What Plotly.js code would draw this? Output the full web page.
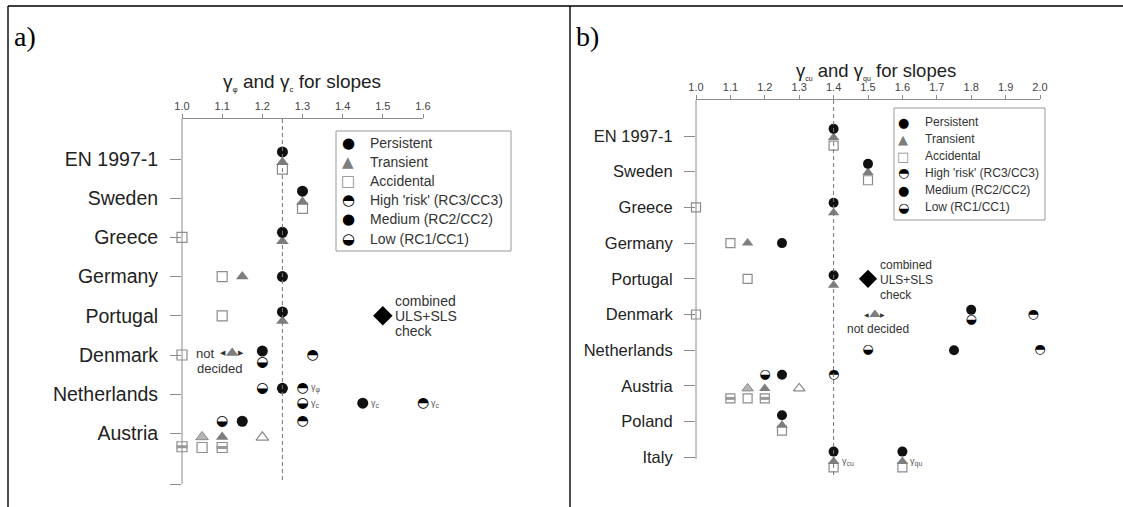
<!DOCTYPE html>
<html><head><meta charset="utf-8">
<script src="https://cdn.plot.ly/plotly-3.0.1.min.js"></script>
<style>html,body{margin:0;padding:0;background:#fff;}#chart{width:1123px;height:507px;}</style>
</head><body><div id="chart"></div><script>
// ---------------- Panel a data (gamma_phi and gamma_c for slopes) ----------------
const aCountries = ['EN 1997-1','Sweden','Greece','Germany','Portugal','Denmark','Netherlands','Austria'];
const aTicks = [1.0,1.1,1.2,1.3,1.4,1.5,1.6];
const aReference = 1.25;
const aPersistentCountry = ['EN 1997-1','Sweden','Greece','Germany','Portugal'];
const aPersistentValue   = [1.25,1.3,1.25,1.25,1.25];
const aPersistentLane    = [-0.18,-0.18,-0.13,0,-0.1];
const aTransientCountry  = ['EN 1997-1','Sweden','Greece','Germany','Portugal','Denmark','Austria'];
const aTransientValue    = [1.25,1.3,1.25,1.15,1.25,1.125,1.1];
const aTransientLane     = [0.08,0.1,0.1,0,0.13,-0.05,0.09];
const aTransientLightCountry = ['Austria'];
const aTransientLightValue   = [1.05];
const aTransientLightLane    = [0.09];
const aTransientOpenCountry  = ['Austria'];
const aTransientOpenValue    = [1.2];
const aTransientOpenLane     = [0.1];
const aAccidentalCountry = ['EN 1997-1','Sweden','Greece','Germany','Portugal','Denmark','Austria'];
const aAccidentalValue   = [1.25,1.3,1.0,1.1,1.1,1.0,1.05];
const aAccidentalLane    = [0.26,0.26,0,0,0,0,0.36];
const aAccidentalBandCountry = ['Austria','Austria'];
const aAccidentalBandValue   = [1.0,1.1];
const aAccidentalBandLane    = [0.34,0.36];
const aHighCountry   = ['Denmark','Netherlands','Netherlands','Austria'];
const aHighValue     = [1.325,1.3,1.6,1.3];
const aHighLane      = [0,-0.15,0.23,-0.31];
const aMediumCountry = ['Denmark','Netherlands','Netherlands','Austria'];
const aMediumValue   = [1.2,1.25,1.45,1.15];
const aMediumLane    = [-0.1,-0.15,0.23,-0.31];
const aLowCountry    = ['Denmark','Netherlands','Netherlands','Austria'];
const aLowValue      = [1.2,1.2,1.3,1.1];
const aLowLane       = [0.18,-0.15,0.23,-0.31];
const aCombinedCountry = ['Portugal'];
const aCombinedValue   = [1.5];
const aCombinedLane    = [0];
const aGammaLabelCountry = ['Netherlands','Netherlands','Netherlands','Netherlands'];
const aGammaLabelValue   = [1.3,1.3,1.45,1.6];
const aGammaLabelLane    = [-0.15,0.23,0.23,0.23];
const aGammaLabelSymbol  = ['φ','c','c','c'];

// ---------------- Panel b data (gamma_cu and gamma_qu for slopes) ----------------
const bCountries = ['EN 1997-1','Sweden','Greece','Germany','Portugal','Denmark','Netherlands','Austria','Poland','Italy'];
const bTicks = [1.0,1.1,1.2,1.3,1.4,1.5,1.6,1.7,1.8,1.9,2.0];
const bReference = 1.4;
const bPersistentCountry = ['EN 1997-1','Sweden','Greece','Germany','Portugal','Poland','Italy','Italy'];
const bPersistentValue   = [1.4,1.5,1.4,1.25,1.4,1.25,1.4,1.6];
const bPersistentLane    = [-0.2,-0.22,-0.13,0,-0.1,-0.18,-0.16,-0.16];
const bTransientCountry  = ['EN 1997-1','Sweden','Greece','Germany','Portugal','Denmark','Austria','Poland','Italy','Italy'];
const bTransientValue    = [1.4,1.5,1.4,1.15,1.4,1.52,1.2,1.25,1.4,1.6];
const bTransientLane     = [0.04,0.02,0.15,0,0.18,0,0.07,0.1,0.12,0.12];
const bTransientLightCountry = ['Austria'];
const bTransientLightValue   = [1.15];
const bTransientLightLane    = [0.07];
const bTransientOpenCountry  = ['Austria'];
const bTransientOpenValue    = [1.3];
const bTransientOpenLane     = [0.07];
const bAccidentalCountry = ['EN 1997-1','Sweden','Greece','Germany','Portugal','Denmark','Austria','Poland','Italy','Italy'];
const bAccidentalValue   = [1.4,1.5,1.0,1.1,1.15,1.0,1.15,1.25,1.4,1.6];
const bAccidentalLane    = [0.27,0.24,0,0,0,0,0.35,0.25,0.28,0.28];
const bAccidentalBandCountry = ['Austria','Austria'];
const bAccidentalBandValue   = [1.1,1.2];
const bAccidentalBandLane    = [0.35,0.35];
const bHighCountry   = ['Denmark','Netherlands','Austria'];
const bHighValue     = [1.98,2.0,1.4];
const bHighLane      = [0,0,-0.31];
const bMediumCountry = ['Denmark','Netherlands','Austria'];
const bMediumValue   = [1.8,1.75,1.25];
const bMediumLane    = [-0.13,0,-0.31];
const bLowCountry    = ['Denmark','Netherlands','Austria'];
const bLowValue      = [1.8,1.5,1.2];
const bLowLane       = [0.15,0,-0.31];
const bCombinedCountry = ['Portugal'];
const bCombinedValue   = [1.5];
const bCombinedLane    = [0];
const bGammaLabelCountry = ['Italy','Italy'];
const bGammaLabelValue   = [1.4,1.6];
const bGammaLabelLane    = [0.12,0.12];
const bGammaLabelSymbol  = ['cu','qu'];

const legendLabels = ['Persistent','Transient','Accidental',"High 'risk' (RC3/CC3)",'Medium (RC2/CC2)','Low (RC1/CC1)'];
const legendGlyphs = ['●','▲','□','◓','●','◒'];

// ---------------- layout helpers ----------------
const W = 1123, H = 507;
const px = p => p / W, py = p => 1 - p / H;
const SANS = 'Liberation Sans, Arial, sans-serif';
const GLYPH = 'DejaVu Sans, sans-serif';
const AXC = '#8c8c8c';

const P = {
  a: {cats: aCountries, xa: 'x', ya: 'y', s: 11, tri: 11, sq: 10, dia: 15, half: 14},
  b: {cats: bCountries, xa: 'x2', ya: 'y2', s: 10, tri: 10, sq: 9, dia: 14, half: 13}
};
const yOf = (panel, countries, lanes) => countries.map((c, i) => P[panel].cats.indexOf(c) + lanes[i]);

function markerTrace(panel, countries, values, lanes, marker) {
  return {type: 'scatter', mode: 'markers', x: values, y: yOf(panel, countries, lanes),
    xaxis: P[panel].xa, yaxis: P[panel].ya, marker: marker, cliponaxis: false,
    showlegend: false, hoverinfo: 'skip'};
}
function glyphTrace(panel, countries, values, lanes, glyph) {
  return {type: 'scatter', mode: 'text', x: values, y: yOf(panel, countries, lanes),
    text: values.map(() => glyph), textposition: 'middle center',
    textfont: {family: GLYPH, size: P[panel].half, color: '#000'},
    xaxis: P[panel].xa, yaxis: P[panel].ya, cliponaxis: false, showlegend: false, hoverinfo: 'skip'};
}
function panelTraces(panel, d) {
  const p = P[panel];
  return [
    markerTrace(panel, d.accC, d.accV, d.accL, {symbol: 'square', size: p.sq, color: '#fff', line: {color: AXC, width: 1.2}}),
    markerTrace(panel, d.bandC, d.bandV, d.bandL, {symbol: 'square', size: p.sq, color: '#fff', line: {color: AXC, width: 1.2}}),
    markerTrace(panel, d.bandC, d.bandV, d.bandL, {symbol: 'line-ew', size: p.sq - 2, line: {color: '#9a9a9a', width: 3}}),
    markerTrace(panel, d.trC, d.trV, d.trL, {symbol: 'triangle-up', size: p.tri, color: '#7d7d7d', line: {width: 0}}),
    markerTrace(panel, d.tlC, d.tlV, d.tlL, {symbol: 'triangle-up', size: p.tri, color: '#b4b4b4', line: {color: '#8a8a8a', width: 1}}),
    markerTrace(panel, d.toC, d.toV, d.toL, {symbol: 'triangle-up', size: p.tri, color: '#fff', line: {color: '#8a8a8a', width: 1.2}}),
    markerTrace(panel, d.peC, d.peV, d.peL, {symbol: 'circle', size: p.s, color: '#111', line: {width: 0}}),
    markerTrace(panel, d.meC, d.meV, d.meL, {symbol: 'circle', size: p.s, color: '#111', line: {width: 0}}),
    glyphTrace(panel, d.hiC, d.hiV, d.hiL, '◓'),
    glyphTrace(panel, d.loC, d.loV, d.loL, '◒'),
    markerTrace(panel, d.coC, d.coV, d.coL, {symbol: 'diamond', size: p.dia, color: '#000', line: {width: 0}})
  ];
}

const traces = [].concat(
  panelTraces('a', {accC: aAccidentalCountry, accV: aAccidentalValue, accL: aAccidentalLane,
    bandC: aAccidentalBandCountry, bandV: aAccidentalBandValue, bandL: aAccidentalBandLane,
    trC: aTransientCountry, trV: aTransientValue, trL: aTransientLane,
    tlC: aTransientLightCountry, tlV: aTransientLightValue, tlL: aTransientLightLane,
    toC: aTransientOpenCountry, toV: aTransientOpenValue, toL: aTransientOpenLane,
    peC: aPersistentCountry, peV: aPersistentValue, peL: aPersistentLane,
    meC: aMediumCountry, meV: aMediumValue, meL: aMediumLane,
    hiC: aHighCountry, hiV: aHighValue, hiL: aHighLane,
    loC: aLowCountry, loV: aLowValue, loL: aLowLane,
    coC: aCombinedCountry, coV: aCombinedValue, coL: aCombinedLane}),
  panelTraces('b', {accC: bAccidentalCountry, accV: bAccidentalValue, accL: bAccidentalLane,
    bandC: bAccidentalBandCountry, bandV: bAccidentalBandValue, bandL: bAccidentalBandLane,
    trC: bTransientCountry, trV: bTransientValue, trL: bTransientLane,
    tlC: bTransientLightCountry, tlV: bTransientLightValue, tlL: bTransientLightLane,
    toC: bTransientOpenCountry, toV: bTransientOpenValue, toL: bTransientOpenLane,
    peC: bPersistentCountry, peV: bPersistentValue, peL: bPersistentLane,
    meC: bMediumCountry, meV: bMediumValue, meL: bMediumLane,
    hiC: bHighCountry, hiV: bHighValue, hiL: bHighLane,
    loC: bLowCountry, loV: bLowValue, loL: bLowLane,
    coC: bCombinedCountry, coV: bCombinedValue, coL: bCombinedLane})
);

// ---------------- axes geometry (pixels) ----------------
// yBot: bottom of the plotting area; lineBot: where the drawn y axis line stops
const GA = {x0: 182, x1: 423, yTop: 119, yBot: 490, lineBot: 484, first: 159, step: 39.2, extraTick: true};
const GB = {x0: 696, x1: 1040, yTop: 100, yBot: 485, lineBot: 459, first: 136, step: 35.7, extraTick: false};
const idxAt = (g, p) => (p - g.first) / g.step;

function xAxis(g, ticks, anchor) {
  return {domain: [px(g.x0), px(g.x1)], range: [ticks[0], ticks[ticks.length - 1]], side: 'top', anchor: anchor,
    tickvals: ticks, ticktext: ticks.map(t => t.toFixed(1)), ticks: 'outside', ticklen: 4, tickcolor: AXC,
    showline: true, linecolor: AXC, linewidth: 1, showgrid: false, zeroline: false,
    tickfont: {family: SANS, size: 11, color: '#444'}, fixedrange: true};
}
function yAxis(g, cats, anchor, fs) {
  const bot = idxAt(g, g.yBot), top = idxAt(g, g.yTop);
  const vals = cats.map((c, i) => i), txt = cats.slice();
  if (g.extraTick) { vals.push(idxAt(g, g.lineBot)); txt.push(''); }
  return {domain: [py(g.yBot), py(g.yTop)], range: [bot, top], anchor: anchor,
    tickvals: vals, ticktext: txt, ticks: 'outside', ticklen: 11, tickcolor: AXC, ticklabelstandoff: 8,
    showline: false, showgrid: false, zeroline: false,
    tickfont: {family: SANS, size: fs, color: '#222'}, fixedrange: true};
}

const shapes = [
  // table frame
  {type: 'line', xref: 'paper', yref: 'paper', x0: px(8), x1: 1, y0: py(6), y1: py(6), line: {color: '#000', width: 1.6}},
  {type: 'line', xref: 'paper', yref: 'paper', x0: px(8), x1: px(8), y0: py(6), y1: 0, line: {color: '#000', width: 1.4}},
  {type: 'line', xref: 'paper', yref: 'paper', x0: px(570), x1: px(570), y0: py(6), y1: 0, line: {color: '#000', width: 1.4}},
  // y axis lines
  {type: 'line', xref: 'paper', yref: 'paper', x0: px(GA.x0), x1: px(GA.x0), y0: py(GA.yTop), y1: py(GA.lineBot), line: {color: AXC, width: 1}},
  {type: 'line', xref: 'paper', yref: 'paper', x0: px(GB.x0), x1: px(GB.x0), y0: py(GB.yTop), y1: py(GB.lineBot), line: {color: AXC, width: 1}},
  // reference lines
  {type: 'line', xref: 'x', yref: 'paper', x0: aReference, x1: aReference, y0: py(GA.yTop), y1: py(480), line: {color: '#777', width: 1, dash: '4px,3px'}},
  {type: 'line', xref: 'x2', yref: 'paper', x0: bReference, x1: bReference, y0: py(GB.yTop), y1: py(476), line: {color: '#777', width: 1, dash: '4px,3px'}},
  // legend boxes
  {type: 'rect', xref: 'paper', yref: 'paper', x0: px(336), x1: px(511), y0: py(131), y1: py(251), line: {color: '#999', width: 1}, fillcolor: 'rgba(0,0,0,0)'},
  {type: 'rect', xref: 'paper', yref: 'paper', x0: px(894), x1: px(1045), y0: py(108), y1: py(220), line: {color: '#999', width: 1}, fillcolor: 'rgba(0,0,0,0)'}
];

const ann = [];
function note(o) { ann.push(Object.assign({showarrow: false, font: {family: SANS, size: 12, color: '#333'}}, o)); }
const sub = (t, s, c) => '<sub><span style="font-size:' + s + 'px;color:' + c + '">' + t + '</span></sub>';

// panel letters and axis titles
note({xref: 'paper', yref: 'paper', x: px(12), y: py(36), xanchor: 'left', yanchor: 'middle', text: 'a)', font: {family: 'Liberation Serif, Times New Roman, serif', size: 28, color: '#000'}});
note({xref: 'paper', yref: 'paper', x: px(574), y: py(36), xanchor: 'left', yanchor: 'middle', text: 'b)', font: {family: 'Liberation Serif, Times New Roman, serif', size: 28, color: '#000'}});
note({xref: 'paper', yref: 'paper', x: px(302), y: py(83), xanchor: 'center', yanchor: 'middle', text: 'γ' + sub('φ', 8, '#222') + ' and γ' + sub('c', 8, '#222') + ' for slopes', font: {family: SANS, size: 19, color: '#222'}});
note({xref: 'paper', yref: 'paper', x: px(876), y: py(71), xanchor: 'center', yanchor: 'middle', text: 'γ' + sub('cu', 7, '#222') + ' and γ' + sub('qu', 7, '#222') + ' for slopes', font: {family: SANS, size: 18.5, color: '#222'}});

// legends
function legend(x0, y0, step, fs, gs) {
  legendLabels.forEach((lab, i) => {
    const color = i === 1 ? '#7d7d7d' : (i === 2 ? '#8c8c8c' : '#000');
    note({xref: 'paper', yref: 'paper', x: px(x0), y: py(y0 + i * step), xanchor: 'center', yanchor: 'middle', text: legendGlyphs[i], font: {family: GLYPH, size: gs, color: color}});
    note({xref: 'paper', yref: 'paper', x: px(x0 + 20), y: py(y0 + i * step), xanchor: 'left', yanchor: 'middle', text: lab, font: {family: SANS, size: fs, color: '#333'}});
  });
}
legend(348, 143, 19.1, 14, 15);
legend(903, 122, 17, 12, 13);

// gamma labels
aGammaLabelCountry.forEach((c, i) => note({xref: 'x', yref: 'y', x: aGammaLabelValue[i], y: aCountries.indexOf(c) + aGammaLabelLane[i], xanchor: 'left', xshift: 6, text: 'γ' + sub(aGammaLabelSymbol[i], 7, '#555'), font: {family: SANS, size: 9, color: '#555'}}));
bGammaLabelCountry.forEach((c, i) => note({xref: 'x2', yref: 'y2', x: bGammaLabelValue[i], y: bCountries.indexOf(c) + bGammaLabelLane[i], xanchor: 'left', xshift: 6, text: 'γ' + sub(bGammaLabelSymbol[i], 7, '#555'), font: {family: SANS, size: 9, color: '#555'}}));

// combined ULS+SLS check
['combined', 'ULS+SLS', 'check'].forEach((t, k) => {
  note({xref: 'x', yref: 'y', x: aCombinedValue[0], y: aCountries.indexOf(aCombinedCountry[0]), xanchor: 'left', xshift: 10, yshift: 15 - 15 * k, text: t, font: {family: SANS, size: 14, color: '#333'}});
  note({xref: 'x2', yref: 'y2', x: bCombinedValue[0], y: bCountries.indexOf(bCombinedCountry[0]), xanchor: 'left', xshift: 10, yshift: 14 - 15 * k, text: t, font: {family: SANS, size: 12, color: '#333'}});
});

// not decided (Denmark transient)
const aDk = aCountries.indexOf('Denmark') + aTransientLane[aTransientCountry.indexOf('Denmark')];
const aDkV = aTransientValue[aTransientCountry.indexOf('Denmark')];
note({xref: 'x', yref: 'y', x: aDkV, y: aDk, xanchor: 'right', xshift: -16, text: 'not', font: {family: SANS, size: 13, color: '#333'}});
note({xref: 'x', yref: 'y', x: aDkV, y: aDk, xanchor: 'center', xshift: -12, yshift: -15, text: 'decided', font: {family: SANS, size: 13, color: '#333'}});
note({xref: 'x', yref: 'y', x: aDkV, y: aDk, xanchor: 'center', xshift: -9, text: '◀', font: {family: GLYPH, size: 7, color: '#333'}});
note({xref: 'x', yref: 'y', x: aDkV, y: aDk, xanchor: 'center', xshift: 9, text: '▶', font: {family: GLYPH, size: 7, color: '#333'}});
const bDk = bCountries.indexOf('Denmark') + bTransientLane[bTransientCountry.indexOf('Denmark')];
const bDkV = bTransientValue[bTransientCountry.indexOf('Denmark')];
note({xref: 'x2', yref: 'y2', x: bDkV, y: bDk, xanchor: 'center', xshift: 3, yshift: -14, text: 'not decided', font: {family: SANS, size: 12, color: '#333'}});
note({xref: 'x2', yref: 'y2', x: bDkV, y: bDk, xanchor: 'center', xshift: -8, text: '◀', font: {family: GLYPH, size: 6, color: '#333'}});
note({xref: 'x2', yref: 'y2', x: bDkV, y: bDk, xanchor: 'center', xshift: 8, text: '▶', font: {family: GLYPH, size: 6, color: '#333'}});

const layout = {
  width: W, height: H, margin: {l: 0, r: 0, t: 0, b: 0}, paper_bgcolor: '#fff', plot_bgcolor: 'rgba(0,0,0,0)',
  showlegend: false, xaxis: xAxis(GA, aTicks, 'y'), yaxis: yAxis(GA, aCountries, 'x', 19.5),
  xaxis2: xAxis(GB, bTicks, 'y2'), yaxis2: yAxis(GB, bCountries, 'x2', 16.5),
  shapes: shapes, annotations: ann
};
Plotly.newPlot('chart', traces, layout, {staticPlot: true, displayModeBar: false});
</script></body></html>
